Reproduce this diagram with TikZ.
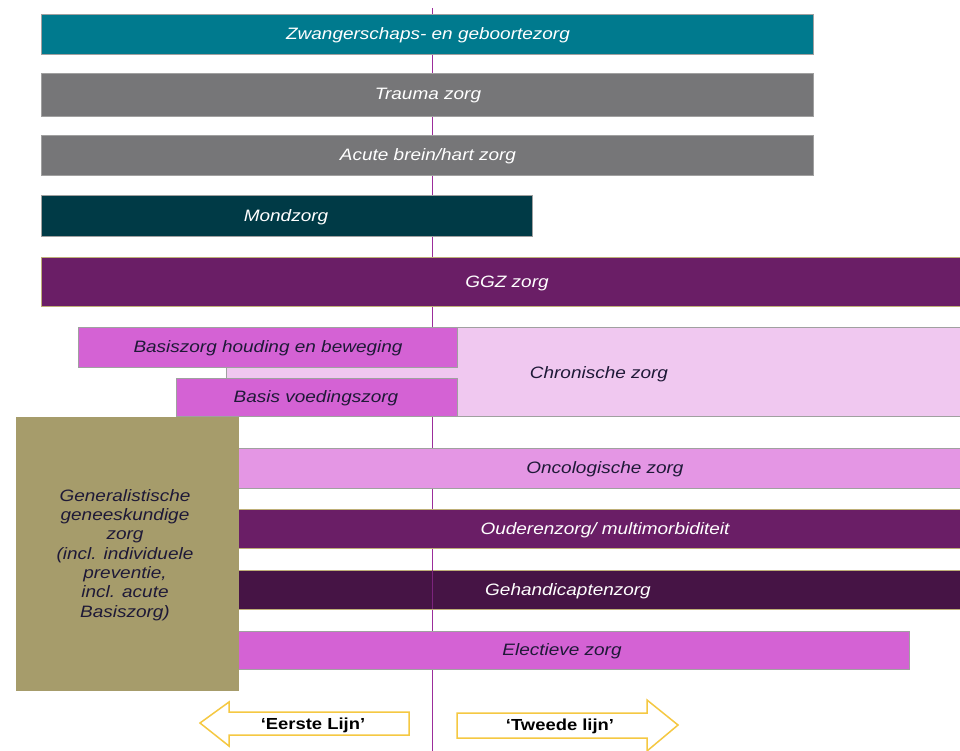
\documentclass[tikz,border=0pt]{standalone}
\usepackage{fontspec}
\setmainfont{Liberation Sans}[FakeStretch=1.15]
\definecolor{cteal}{RGB}{0,122,142}
\definecolor{cgray}{RGB}{118,118,120}
\definecolor{cmond}{RGB}{0,58,70}
\definecolor{cggz}{RGB}{106,30,102}
\definecolor{cpink}{RGB}{212,98,212}
\definecolor{clight}{RGB}{240,200,240}
\definecolor{conco}{RGB}{228,150,228}
\definecolor{cgeh}{RGB}{70,20,69}
\definecolor{ckhaki}{RGB}{166,156,107}
\definecolor{cvline}{RGB}{155,45,155}
\definecolor{carrow}{RGB}{245,200,66}
\definecolor{cborder}{RGB}{160,160,160}
\definecolor{ctan}{RGB}{190,175,120}
\definecolor{cdark}{RGB}{30,25,55}
\begin{document}
\begin{tikzpicture}[x=1pt,y=-1pt,
  bar/.style={rectangle,inner sep=0pt,outer sep=0pt,anchor=north west,draw=cborder,line width=0.8pt},
  tanbar/.style={bar,draw=ctan},
  lbl/.style={inner sep=0pt,font=\fontsize{16.5}{19.3}\selectfont\itshape},
  wt/.style={lbl,text=white},
  dk/.style={lbl,text=cdark},
  vline/.style={draw=cvline,line width=1pt},
  arrowbox/.style={draw=carrow,fill=white,line width=1.5pt,line join=miter},
  arrlbl/.style={inner sep=0pt,font=\fontsize{16}{19}\selectfont\bfseries,text=black}]
\useasboundingbox (0,0) rectangle (960,750);
\fill[white] (0,0) rectangle (960,750);
% vertical divider
\coordinate (vtop) at (432,8);
\coordinate (vbot) at (432,752);
\draw[vline] (vtop) -- (vbot);
% top bars
\node[bar,fill=cteal,minimum width=772pt,minimum height=40pt] (zw) at (41,14) {};
\node[wt] (tzw) at (428,35) {Zwangerschaps- en geboortezorg};
\node[bar,fill=cgray,minimum width=772pt,minimum height=43pt] (tr) at (41,73) {};
\node[wt] (ttr) at (428,96) {Trauma zorg};
\node[bar,fill=cgray,minimum width=772pt,minimum height=40pt] (ac) at (41,135) {};
\node[wt] (tac) at (428,156) {Acute brein/hart zorg};
\node[bar,fill=cmond,minimum width=491pt,minimum height=41pt] (mo) at (41,195) {};
\node[wt] (tmo) at (286,217) {Mondzorg};
\node[tanbar,fill=cggz,minimum width=925pt,minimum height=49pt] (gg) at (41,257) {};
\node[wt] (tgg) at (507,283) {GGZ zorg};
% chronic group
\node[bar,fill=clight,minimum width=740pt,minimum height=89pt] (ch) at (226,327) {};
\node[dk] (tch) at (599,374) {Chronische zorg};
\node[bar,fill=cpink,minimum width=379pt,minimum height=40pt] (bh) at (78,327) {};
\node[dk] (tbh) at (268,348) {Basiszorg houding en beweging};
\node[bar,fill=cpink,minimum width=281pt,minimum height=38pt] (bv) at (176,378) {};
\node[dk] (tbv) at (316,398) {Basis voedingszorg};
% lower bars
\node[bar,fill=conco,minimum width=736pt,minimum height=40pt] (on) at (230,448) {};
\node[dk] (ton) at (605,469) {Oncologische zorg};
\node[tanbar,fill=cggz,minimum width=736pt,minimum height=39pt] (ou) at (230,509) {};
\node[wt] (tou) at (605,530) {Ouderenzorg/ multimorbiditeit};
\node[tanbar,fill=cgeh,minimum width=736pt,minimum height=39pt] (ge) at (230,570) {};
\draw[vline,draw=cvline!80!black] (ge.north -| vtop) -- (ge.south -| vtop);
\node[wt] (tge) at (568,591) {Gehandicaptenzorg};
\node[bar,fill=cpink,minimum width=679pt,minimum height=38pt] (el) at (230,631) {};
\node[dk] (tel) at (562,651) {Electieve zorg};
% generalist box
\node[rectangle,inner sep=0pt,anchor=north west,fill=ckhaki,minimum width=223pt,minimum height=274pt] (gen) at (16,417) {};
\node[dk,align=center] (tgen) at (125,555) {Generalistische\\geneeskundige\\zorg\\(incl. individuele\\preventie,\\incl. acute\\Basiszorg)};
% arrows
\draw[arrowbox] (200,723) -- (229,702) -- (229,712) -- (409,712) -- (409,735) -- (229,735) -- (229,746) -- cycle;
\node[arrlbl] (eerste) at (313,725) {‘Eerste Lijn’};
\draw[arrowbox] (457,713) -- (647,713) -- (647,700) -- (678,725) -- (647,751) -- (647,738) -- (457,738) -- cycle;
\node[arrlbl] (tweede) at (560,726) {‘Tweede lijn’};
\end{tikzpicture}
\end{document}
